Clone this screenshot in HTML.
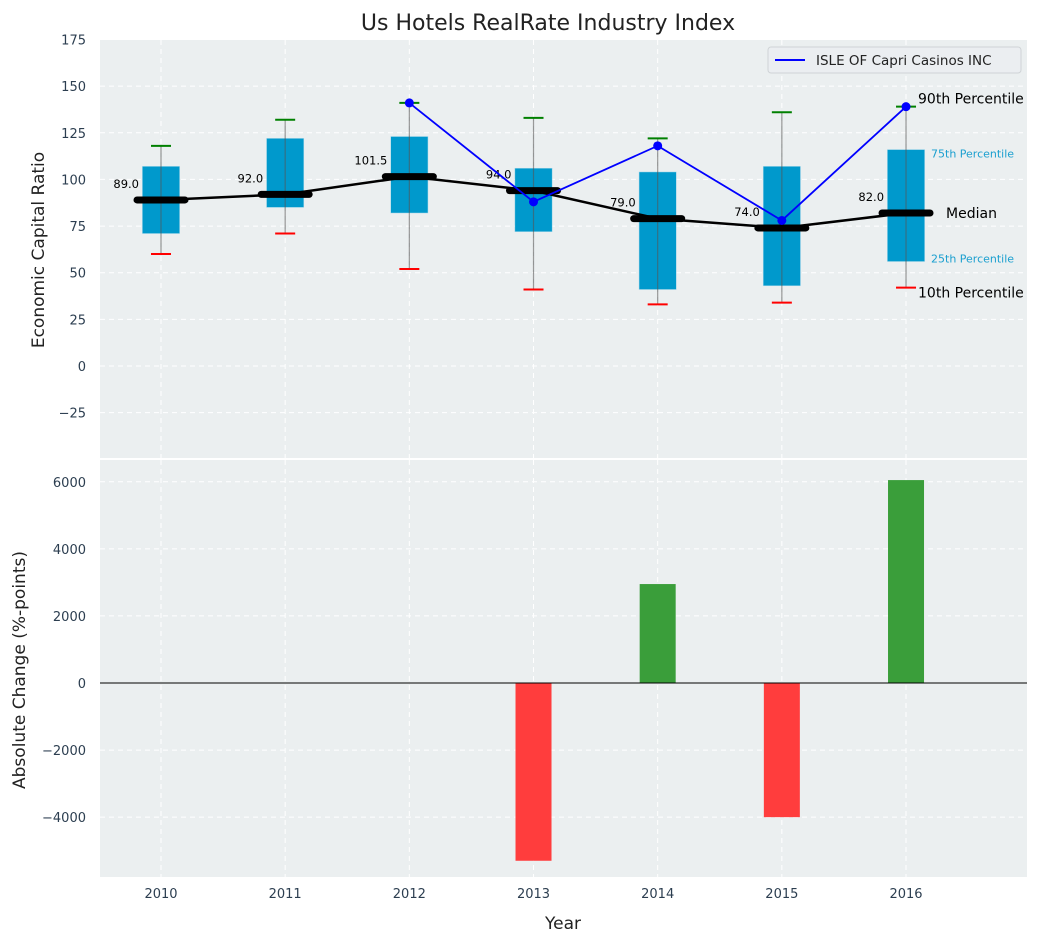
<!DOCTYPE html>
<html><head><meta charset="utf-8">
<style>
html,body{margin:0;padding:0;background:#fff;}
svg{display:block;font-family:"DejaVu Sans","Liberation Sans",sans-serif;overflow:visible}
</style></head>
<body>
<svg id="chart" width="1053" height="942" viewBox="0 0 1053 942"></svg>
<script>
const years=[2010,2011,2012,2013,2014,2015,2016];
const p10=[60,71,52,41,33,34,42];
const p25=[71,85,82,72,41,43,56];
const medians=[89,92,101.5,94,79,74,82];
const p75=[107,122,123,106,104,107,116];
const p90=[118,132,141,133,122,136,139];
const companyValues=[null,null,141,88,118,78,139];
const changeYears=[2013,2014,2015,2016];
const changeValues=[-5300,2950,-4000,6050];
const topTicks=[-25,0,25,50,75,100,125,150,175];
const bottomTicks=[-4000,-2000,0,2000,4000,6000];

const NS="http://www.w3.org/2000/svg";
const svg=document.getElementById('chart');
function mk(tag,attrs,parent){const e=document.createElementNS(NS,tag);for(const k in attrs)e.setAttribute(k,attrs[k]);(parent||svg).appendChild(e);return e;}
const L=100,R=1027;
const xS=v=>161+(v-2010)*124.17;
const yT=v=>366-v*1.8657;
const yB=v=>683-v*0.03354;
const T1=40,B1=458,T2=460,B2=877;

let e=mk('rect',{x:L,y:T1,width:R-L,height:B1-T1,fill:'#ebeff0'});


e=mk('rect',{x:L,y:T2,width:R-L,height:B2-T2,fill:'#ebeff0'});



years.forEach(y=>{
  [[T1,B1],[T2,B2]].forEach(r=>{
    e=mk('line',{x1:xS(y),x2:xS(y),y1:r[0],y2:r[1],stroke:'#fff','stroke-dasharray':'5,4','stroke-width':1});
    
    
  });
});
topTicks.forEach(t=>{
  const y=yT(t);
  e=mk('line',{x1:L,x2:R,y1:y,y2:y,stroke:'#fff','stroke-dasharray':'5,4','stroke-width':1});
  
  
  e=mk('text',{x:L-14,y:y+5,'text-anchor':'end','font-size':13,fill:'#2c3e50'});
  e.textContent=t<0?'\u2212'+Math.abs(t):t;
  
  
});
bottomTicks.forEach(t=>{
  const y=yB(t);
  e=mk('line',{x1:L,x2:R,y1:y,y2:y,stroke:'#fff','stroke-dasharray':'5,4','stroke-width':1});
  
  
  e=mk('text',{x:L-14,y:y+5,'text-anchor':'end','font-size':13,fill:'#2c3e50'});
  e.textContent=t<0?'\u2212'+Math.abs(t):t;
  
  
});

const bw=0.3*124.17;
years.forEach((yr,i)=>{
  const x=xS(yr);
  e=mk('rect',{x:x-bw/2,y:yT(p75[i]),width:bw,height:yT(p25[i])-yT(p75[i]),fill:'#0099cc',stroke:'#a8d8ea','stroke-width':0.5});
  
  
  e=mk('line',{x1:x,x2:x,y1:yT(p10[i]),y2:yT(p90[i]),stroke:'#555','stroke-opacity':0.6,'stroke-width':1.2});
  
  
  e=mk('line',{x1:x-10,x2:x+10,y1:yT(p90[i]),y2:yT(p90[i]),stroke:'#008000','stroke-width':2});
  
  
  e=mk('line',{x1:x-10,x2:x+10,y1:yT(p10[i]),y2:yT(p10[i]),stroke:'#ff0000','stroke-width':2});
  
  
  e=mk('text',{x:x-22,y:yT(medians[i])-12,'text-anchor':'end','font-size':11.5,fill:'#000'});
  e.textContent=medians[i].toFixed(1);
  
  
});
e=mk('polyline',{points:years.map((y,i)=>xS(y)+','+yT(medians[i])).join(' '),fill:'none',stroke:'#000','stroke-width':2.5});


years.forEach((yr,i)=>{
  const x=xS(yr);
  e=mk('line',{x1:x-24,x2:x+24,y1:yT(medians[i]),y2:yT(medians[i]),stroke:'#000','stroke-width':7,'stroke-linecap':'round'});
  
  
});
const cpts=[];
years.forEach((y,i)=>{if(companyValues[i]!=null)cpts.push([xS(y),yT(companyValues[i])]);});
e=mk('polyline',{points:cpts.map(p=>p.join(',')).join(' '),fill:'none',stroke:'#0000ff','stroke-width':1.8});


cpts.forEach(p=>{
  e=mk('circle',{cx:p[0],cy:p[1],r:4.5,fill:'#0000ff'});
  
  
});
const last=years.length-1,lx=xS(years[last]);
[[p90[last],'90th Percentile',12,14,'#000'],[p75[last],'75th Percentile',25,11,'#1a9fcf'],[medians[last],'Median',40,14,'#000'],[p25[last],'25th Percentile',25,11,'#1a9fcf'],[p10[last],'10th Percentile',12,14,'#000']].forEach((a,k)=>{
  const off=k==0?-3:(k==1?8:(k==3?1:(k==4?10:5)));
  e=mk('text',{x:lx+a[2],y:yT(a[0])+off,'font-size':a[3],fill:a[4]});
  e.textContent=a[1];
  
  
});
e=mk('rect',{x:768,y:47,width:253,height:26,rx:3,fill:'#ebeef1',stroke:'#cfd3d6'});


e=mk('line',{x1:775,x2:805,y1:60,y2:60,stroke:'#0000ff','stroke-width':2});


e=mk('text',{x:816,y:65,'font-size':13.5,fill:'#222'});
e.textContent='ISLE OF Capri Casinos INC';



changeYears.forEach((yr,i)=>{
  const v=changeValues[i],x=xS(yr);
  e=mk('rect',{x:x-18,y:Math.min(yB(v),yB(0)),width:36,height:Math.abs(yB(v)-yB(0)),fill:v>=0?'#3a9e3a':'#ff3d3d'});
  
  
});
e=mk('line',{x1:L,x2:R,y1:yB(0),y2:yB(0),stroke:'#000','stroke-width':0.9});


years.forEach(y=>{
  e=mk('text',{x:xS(y),y:B2+21,'text-anchor':'middle','font-size':13,fill:'#2c3e50'});
  e.textContent=y;
  
  
});
e=mk('text',{x:548,y:30,'text-anchor':'middle','font-size':22,fill:'#222'});
e.textContent='Us Hotels RealRate Industry Index';


e=mk('text',{x:563,y:929,'text-anchor':'middle','font-size':17,fill:'#222'});
e.textContent='Year';


e=mk('text',{x:44,y:250,'text-anchor':'middle','font-size':17,fill:'#222',transform:'rotate(-90 44 250)'});
e.textContent='Economic Capital Ratio';


e=mk('text',{x:25,y:670,'text-anchor':'middle','font-size':17,fill:'#222',transform:'rotate(-90 25 670)'});
e.textContent='Absolute Change (%-points)';


</script>
</body></html>
